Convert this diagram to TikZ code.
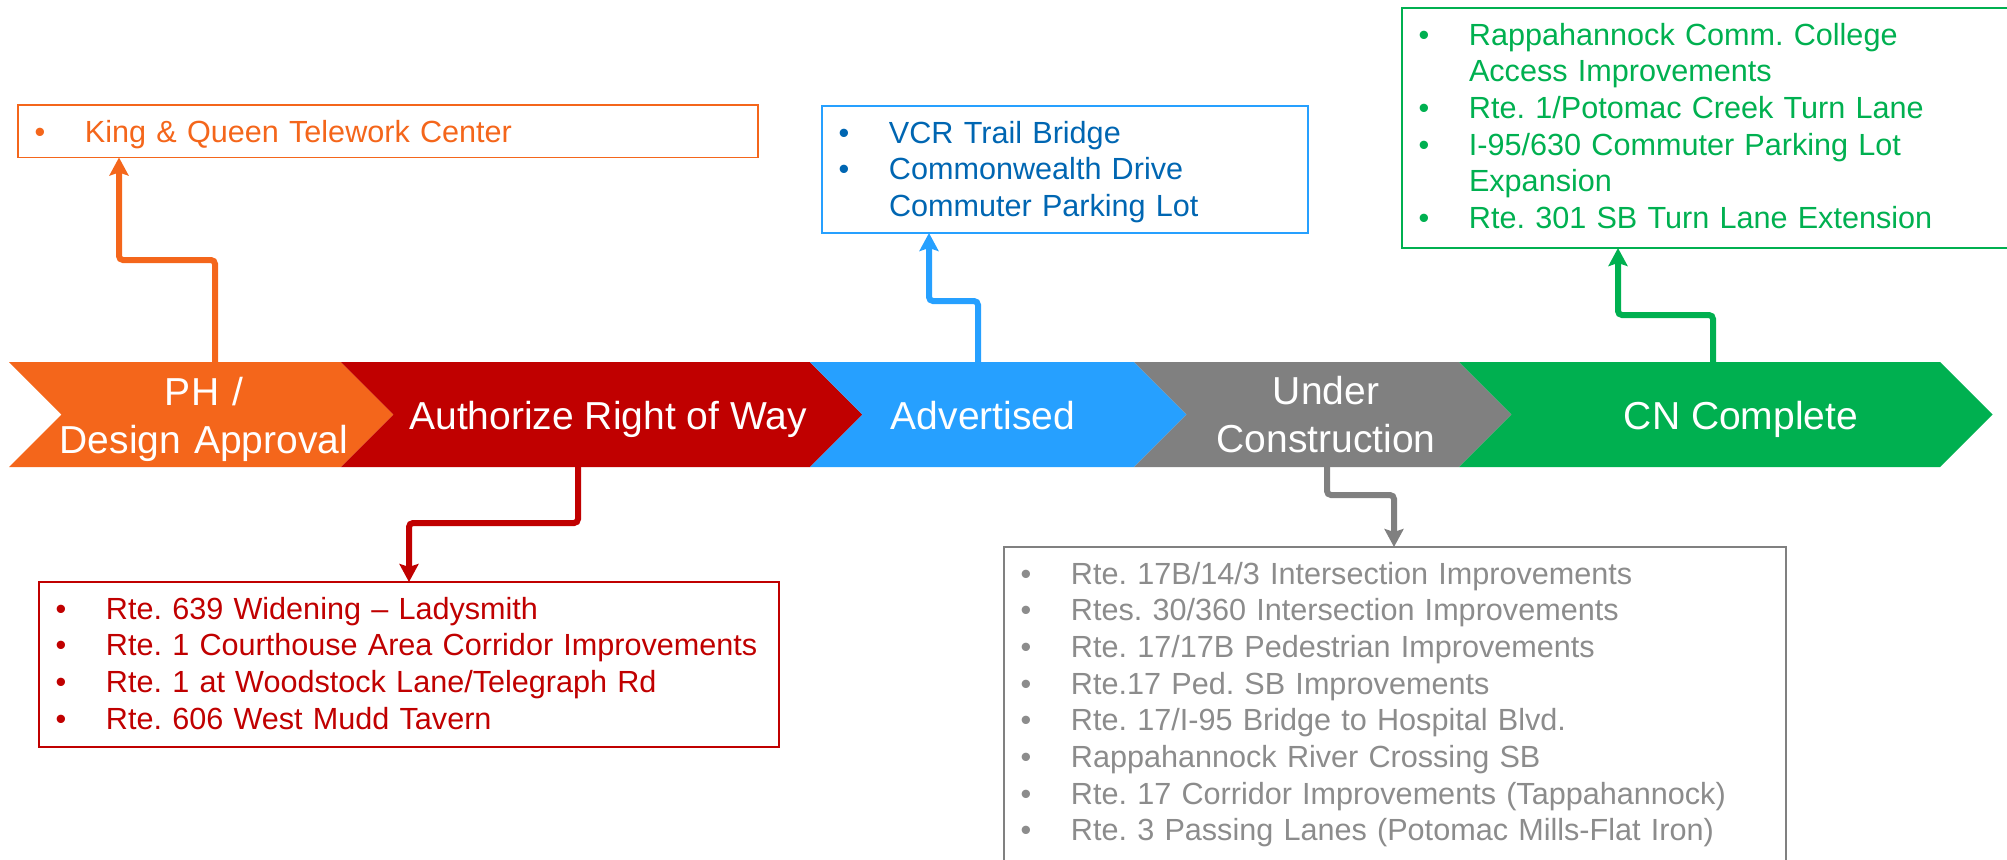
\documentclass[tikz,border=0pt]{standalone}
\usepackage{fontspec}
\setmainfont{Liberation Sans}
\usetikzlibrary{arrows.meta}
\definecolor{phorange}{RGB}{244,102,27}
\definecolor{rowred}{RGB}{192,0,0}
\definecolor{advblue}{RGB}{38,160,255}
\definecolor{advtext}{RGB}{0,102,178}
\definecolor{ucgray}{RGB}{128,128,128}
\definecolor{uctext}{RGB}{140,140,140}
\definecolor{cngreen}{RGB}{0,176,80}
\newcommand{\itm}{\makebox[25.2pt][l]{•}}
\newcommand{\cont}{\hspace*{25.2pt}}
\begin{document}
\frenchspacing
\hyphenpenalty=10000\relax
\begin{tikzpicture}[x=0.5pt,y=0.5pt]
	\tikzstyle{every node}+=[inner sep=0pt,outer sep=0pt]
	\tikzstyle{stage}=[text=white,font=\fontsize{19.5}{24.25}\selectfont,align=center,anchor=base]
	\tikzstyle{list}=[draw,line width=1pt,anchor=north west,inner xsep=8.3pt,text height=18.5pt,font=\fontsize{15.3}{18.35}\selectfont,align=left]
	\tikzstyle{link}=[line width=3pt,rounded corners=2pt,-{Stealth[length=9pt,width=9.5pt,inset=1.5pt]}]
	\useasboundingbox (0,0) rectangle (2007,-859);

	% stage chevrons
	\foreach \a/\b/\c in {9/341/phorange,341/810/rowred,810/1134/advblue,1134/1459/ucgray,1459/1940/cngreen}
		\fill[\c] (\a,-362) -- (\b,-362) -- ++(52.5,-52.5) -- (\b,-467) -- (\a,-467) -- ++(52.5,52.5) -- cycle;

	\node[stage,text width=160pt] (ph) at (204,-405) {PH /\\Design Approval};
	\node[stage] (row) at (608,-429) {Authorize Right of Way};
	\node[stage] (adv) at (983,-429) {Advertised};
	\node[stage,text width=160pt] (uc) at (1326,-404) {Under\\Construction};
	\node[stage] (cn) at (1741,-429) {CN Complete};

	% project lists
	\node[list,draw=phorange,text=phorange,line width=0.8pt,text width=353.4pt,text depth=7.75pt] (kq) at (18,-105)
		{\itm King \& Queen Telework Center};
	\node[list,draw=rowred,text=rowred,text width=353.4pt,text depth=64pt] (rw) at (39,-582)
		{\itm Rte. 639 Widening – Ladysmith\\
		 \itm Rte. 1 Courthouse Area Corridor Improvements\\
		 \itm Rte. 1 at Woodstock Lane/Telegraph Rd\\
		 \itm Rte. 606 West Mudd Tavern};
	\node[list,draw=advblue,text=advtext,line width=0.8pt,text width=226.4pt,text depth=45pt] (vcr) at (822,-106)
		{\itm VCR Trail Bridge\\
		 \itm Commonwealth Drive\\
		 \cont Commuter Parking Lot};
	\node[list,draw=ucgray,text=uctext,text width=374.4pt,text depth=139pt] (ucl) at (1004,-547)
		{\itm Rte. 17B/14/3 Intersection Improvements\\
		 \itm Rtes. 30/360 Intersection Improvements\\
		 \itm Rte. 17/17B Pedestrian Improvements\\
		 \itm Rte.17 Ped. SB Improvements\\
		 \itm Rte. 17/I-95 Bridge to Hospital Blvd.\\
		 \itm Rappahannock River Crossing SB\\
		 \itm Rte. 17 Corridor Improvements (Tappahannock)\\
		 \itm Rte. 3 Passing Lanes (Potomac Mills-Flat Iron)};
	\node[list,draw=cngreen,text=cngreen,text width=287.4pt,text depth=101.5pt] (cnl) at (1402,-8)
		{\itm Rappahannock Comm. College\\
		 \cont Access Improvements\\
		 \itm Rte. 1/Potomac Creek Turn Lane\\
		 \itm I-95/630 Commuter Parking Lot\\
		 \cont Expansion\\
		 \itm Rte. 301 SB Turn Lane Extension};

	% connectors
	\coordinate (phup) at (215,-362);
	\coordinate (rowdn) at (578,-467);
	\coordinate (advup) at (978,-362);
	\coordinate (ucdn) at (1327,-467);
	\coordinate (cnup) at (1713,-362);
	\draw[link,phorange] (phup) -- ++(0,102) -| ([xshift=50.5pt]kq.south west);
	\draw[link,rowred] (rowdn) -- ++(0,-56) -| ([xshift=185pt]rw.north west);
	\draw[link,advblue] (advup) -- ++(0,61) -| ([xshift=53.5pt]vcr.south west);
	\draw[link,ucgray] (ucdn) -- ++(0,-28) -| ([xshift=195pt]ucl.north west);
	\draw[link,cngreen] (cnup) -- ++(0,47) -| ([xshift=108pt]cnl.south west);
\end{tikzpicture}
\end{document}
